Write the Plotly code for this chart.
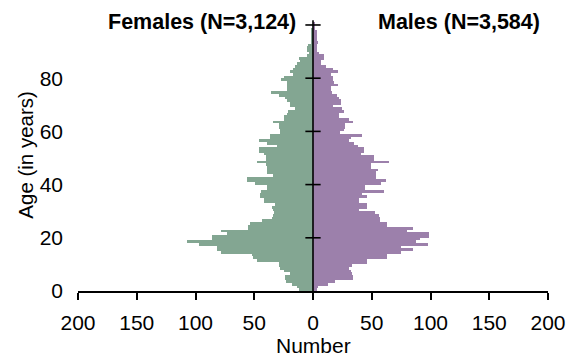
import plotly.graph_objects as go

ages = list(range(0, 101))

females = [12, 14, 18, 23, 24, 24, 20, 25, 28, 29,
           29, 48, 51, 52, 78, 82, 82, 97, 107, 86,
           86, 73, 78, 55, 55, 54, 43, 35, 34, 33,
           34, 35, 32, 42, 42, 45, 45, 44, 39, 39,
           49, 56, 56, 34, 39, 39, 39, 40, 48, 40,
           40, 42, 46, 46, 31, 39, 46, 37, 37, 28,
           28, 29, 29, 34, 25, 25, 22, 21, 15, 20,
           20, 22, 24, 29, 36, 22, 22, 22, 22, 27,
           25, 17, 20, 17, 15, 14, 11, 12, 5, 3,
           5, 5, 4, 2, 2, 1, 1, 1, 1, 0, 0]

males = [3, 4, 13, 19, 34, 34, 33, 32, 31, 33,
         46, 46, 63, 63, 75, 85, 75, 98, 88, 91,
         99, 99, 80, 85, 63, 63, 57, 57, 56, 53,
         39, 46, 46, 39, 39, 46, 42, 60, 44, 44,
         58, 62, 54, 54, 54, 55, 49, 49, 65, 52,
         52, 41, 43, 43, 38, 35, 31, 32, 42, 23,
         26, 27, 27, 34, 31, 22, 22, 26, 25, 17,
         24, 24, 22, 20, 16, 15, 15, 21, 18, 17,
         17, 15, 21, 17, 11, 7, 7, 9, 9, 5,
         3, 3, 3, 4, 3, 3, 3, 3, 1, 1, 1]

x_tickvals = [-200, -150, -100, -50, 0, 50, 100, 150, 200]
x_ticktext = ["200", "150", "100", "50", "0", "50", "100", "150", "200"]
y_tickvals = [0, 20, 40, 60, 80]
center_ticks = [20, 40, 60, 80, 100]

female_title = "Females (N=3,124)"
male_title = "Males (N=3,584)"

GREEN = "#83a692"
PURPLE = "#9c80ab"
FONT = "Liberation Sans, Arial, Helvetica, sans-serif"

bin_centers = [a + 0.5 for a in ages]

fig = go.Figure()
fig.add_trace(go.Bar(
    y=bin_centers, x=[-v for v in females], orientation="h", width=1,
    marker=dict(color=GREEN, line=dict(width=0)), showlegend=False,
))
fig.add_trace(go.Bar(
    y=bin_centers, x=males, orientation="h", width=1,
    marker=dict(color=PURPLE, line=dict(width=0)), showlegend=False,
))

# centre line
fig.add_trace(go.Scatter(
    x=[0, 0], y=[0, 101.8], mode="lines",
    line=dict(color="black", width=1.6), showlegend=False, hoverinfo="skip",
    cliponaxis=False,
))
for t in center_ticks:
    fig.add_shape(type="line", xref="x", yref="y", x0=-6.5, x1=6.5, y0=t, y1=t,
                  line=dict(color="black", width=1.6))

# the page body has an 8px margin, so the figure is 8px smaller than the window
fig.update_layout(
    width=572, height=350,
    margin=dict(l=69.5, r=32, t=9, b=67, autoexpand=False),
    plot_bgcolor="white", paper_bgcolor="white",
    barmode="overlay", bargap=0,
    font=dict(family=FONT, size=21, color="black"),
    xaxis=dict(
        range=[-200, 200], tickvals=x_tickvals, ticktext=x_ticktext,
        showgrid=False, zeroline=False, showline=True, linecolor="black", linewidth=1.6,
        ticks="outside", ticklen=7, tickwidth=1.6, tickcolor="black",
        tickfont=dict(size=21), ticklabelstandoff=5, automargin=False,
    ),
    yaxis=dict(
        range=[0, 103], tickvals=y_tickvals, showgrid=False, zeroline=False,
        showline=False, ticks="", tickfont=dict(size=21), ticklabelstandoff=14,
        automargin=False,
    ),
    annotations=[
        dict(text="<b>" + female_title + "</b>", x=0.2636, y=0.982, xref="paper", yref="paper",
             showarrow=False, xanchor="center", yanchor="middle", font=dict(size=21.5)),
        dict(text="<b>" + male_title + "</b>", x=0.8096, y=0.982, xref="paper", yref="paper",
             showarrow=False, xanchor="center", yanchor="middle", font=dict(size=21.5)),
        dict(text="Age (in years)", x=-0.1116, y=0.4958, xref="paper", yref="paper",
             showarrow=False, xanchor="center", yanchor="middle", textangle=-90,
             font=dict(size=20.5)),
        dict(text="Number", x=0.5, y=-0.198, xref="paper", yref="paper",
             showarrow=False, xanchor="center", yanchor="middle", font=dict(size=21)),
    ],
)

fig.write_html("out.html")
